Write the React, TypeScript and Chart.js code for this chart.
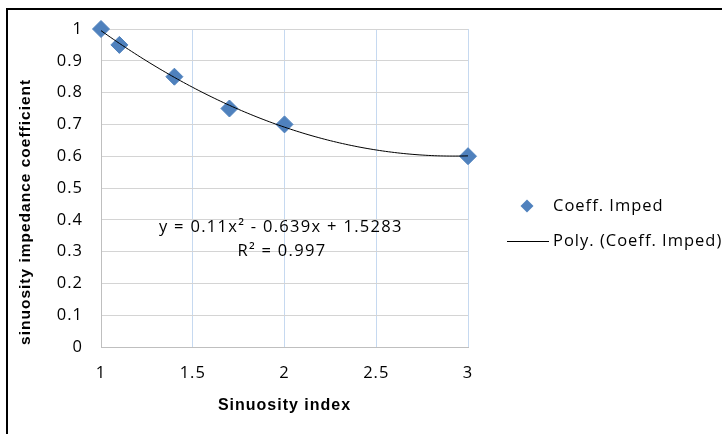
import React, { useEffect, useRef } from 'react';
import { Chart, registerables } from 'chart.js';

Chart.register(...registerables);

// ---- data ----
const sinuosityIndex = [1, 1.1, 1.4, 1.7, 2, 3];
const impedanceCoeff = [1, 0.95, 0.85, 0.75, 0.7, 0.6];
const xTickValues = [1, 1.5, 2, 2.5, 3];
const yTickValues = [0, 0.1, 0.2, 0.3, 0.4, 0.5, 0.6, 0.7, 0.8, 0.9, 1];
const seriesLabel = 'Coeff. Imped';
const trendLabel = 'Poly. (Coeff. Imped)';
const xTitle = 'Sinuosity index';
const yTitle = 'sinuosity impedance coefficient';
const equationLines = ['y = 0.11x² - 0.639x + 1.5283', 'R² = 0.997'];

const REG_FONT = "'Open Sans', sans-serif";
const BOLD_FONT = "'Liberation Sans', Arial, sans-serif";
const BLUE = '#4f81bd';
const W = 722;
const H = 434;

// least-squares quadratic fit (Excel "Poly. order 2" trendline)
function fitQuadratic(xs: number[], ys: number[]) {
  let s0 = 0, s1 = 0, s2 = 0, s3 = 0, s4 = 0, t0 = 0, t1 = 0, t2 = 0;
  for (let i = 0; i < xs.length; i++) {
    const x = xs[i], y = ys[i];
    s0 += 1; s1 += x; s2 += x * x; s3 += x * x * x; s4 += x * x * x * x;
    t0 += y; t1 += x * y; t2 += x * x * y;
  }
  const det3 = (m: number[][]) =>
    m[0][0] * (m[1][1] * m[2][2] - m[1][2] * m[2][1]) -
    m[0][1] * (m[1][0] * m[2][2] - m[1][2] * m[2][0]) +
    m[0][2] * (m[1][0] * m[2][1] - m[1][1] * m[2][0]);
  const M = [[s4, s3, s2], [s3, s2, s1], [s2, s1, s0]];
  const R = [t2, t1, t0];
  const D = det3(M);
  const col = (k: number) => M.map((row, i) => row.map((v, j) => (j === k ? R[i] : v)));
  return { a: det3(col(0)) / D, b: det3(col(1)) / D, c: det3(col(2)) / D };
}

export default function App() {
  const ref = useRef<HTMLCanvasElement | null>(null);

  useEffect(() => {
    if (!ref.current) return;
    const fit = fitQuadratic(sinuosityIndex, impedanceCoeff);
    const xMin = Math.min(...sinuosityIndex);
    const xMax = Math.max(...sinuosityIndex);
    const trend: { x: number; y: number }[] = [];
    const N = 120;
    for (let i = 0; i <= N; i++) {
      const x = xMin + ((xMax - xMin) * i) / N;
      trend.push({ x, y: fit.a * x * x + fit.b * x + fit.c });
    }
    const points = sinuosityIndex.map((x, i) => ({ x, y: impedanceCoeff[i] }));

    const spacingPlugin = {
      id: 'spacing',
      beforeLayout(chart: any) { chart.ctx.letterSpacing = '1px'; },
      beforeDraw(chart: any) { chart.ctx.letterSpacing = '1px'; },
    };

    // equation label + Excel-style legend on the right
    const annotatePlugin = {
      id: 'annotate',
      afterDraw(chart: any) {
        const { ctx, chartArea } = chart;
        const w = chartArea.right - chartArea.left;
        const h = chartArea.bottom - chartArea.top;
        ctx.save();
        ctx.letterSpacing = '1.3px';
        ctx.fillStyle = '#000';
        ctx.font = `16.5px ${REG_FONT}`;
        ctx.textAlign = 'center';
        ctx.textBaseline = 'alphabetic';
        ctx.fillText(equationLines[0], chartArea.left + w * 0.49, chartArea.top + h * 0.638);
        ctx.fillText(equationLines[1], chartArea.left + w * 0.493, chartArea.top + h * 0.714);

        // legend
        const ds = chart.data.datasets;
        const lx = chartArea.right + 39;
        const y1 = chartArea.top + 177;
        const y2 = chartArea.top + 212;
        const cx = lx + 20;
        const r = 6.5;
        ctx.fillStyle = ds[0].backgroundColor;
        ctx.beginPath();
        ctx.moveTo(cx, y1 - r); ctx.lineTo(cx + r, y1); ctx.lineTo(cx, y1 + r); ctx.lineTo(cx - r, y1);
        ctx.closePath();
        ctx.fill();
        ctx.strokeStyle = ds[1].borderColor;
        ctx.lineWidth = 1;
        ctx.beginPath();
        ctx.moveTo(lx, y2 + 0.5); ctx.lineTo(lx + 42, y2 + 0.5);
        ctx.stroke();
        ctx.letterSpacing = '1px';
        ctx.fillStyle = '#000';
        ctx.textAlign = 'left';
        ctx.textBaseline = 'middle';
        ctx.fillText(ds[0].label, lx + 46, y1);
        ctx.fillText(ds[1].label, lx + 46, y2);
        ctx.restore();
      },
    };

    const tickText = (v: any) => String(Number(v));

    const chart = new Chart(ref.current, {
      type: 'scatter',
      data: {
        datasets: [
          {
            label: seriesLabel,
            data: points,
            pointStyle: 'rectRot',
            pointRadius: 8.5,
            pointHoverRadius: 8.5,
            backgroundColor: BLUE,
            borderColor: BLUE,
            borderWidth: 1,
            clip: false,
            order: 1,
          } as any,
          {
            type: 'line',
            label: trendLabel,
            data: trend,
            showLine: true,
            borderColor: '#000',
            backgroundColor: '#000',
            borderWidth: 1,
            pointRadius: 0,
            pointHoverRadius: 0,
            fill: false,
            tension: 0,
            order: 0,
          } as any,
        ],
      },
      options: {
        animation: false,
        responsive: false,
        devicePixelRatio: 1,
        events: [],
        layout: { padding: { top: 29, bottom: 16, left: 16, right: 254 } },
        scales: {
          x: {
            type: 'linear',
            min: 1,
            max: 3,
            afterBuildTicks: (s: any) => { s.ticks = xTickValues.map((v) => ({ value: v })); },
            afterFit: (s: any) => { s.height = 71; },
            ticks: { color: '#000', padding: 16, font: { family: REG_FONT, size: 16.5 }, callback: tickText },
            grid: { color: '#c6d9f0', drawTicks: false },
            border: { color: '#bfbfbf' },
            title: {
              display: true,
              text: xTitle,
              color: '#000',
              font: { family: BOLD_FONT, size: 16, weight: 'bold' },
              padding: { top: 0, bottom: 2.4 },
            },
          },
          y: {
            type: 'linear',
            min: 0,
            max: 1,
            afterBuildTicks: (s: any) => { s.ticks = yTickValues.map((v) => ({ value: v })); },
            afterFit: (s: any) => { s.width = 85; },
            ticks: { color: '#000', padding: 18, font: { family: REG_FONT, size: 16.5 }, callback: tickText },
            grid: { color: '#d4d4d4', drawTicks: false },
            border: { color: '#bfbfbf' },
            title: {
              display: true,
              // trailing spaces shift the centred title toward the bottom, as in the source
              text: yTitle + '         ',
              color: '#000',
              font: { family: BOLD_FONT, size: 15.5, weight: 'bold' },
              padding: { top: 0, bottom: 0 },
            },
          },
        },
        plugins: {
          tooltip: { enabled: false },
          legend: { display: false },
        },
      } as any,
      plugins: [spacingPlugin, annotatePlugin],
    });
    return () => chart.destroy();
  }, []);

  return (
    <div style={{ position: 'fixed', left: 0, top: 0, width: W, height: H, overflow: 'hidden', background: '#fff' }}>
      <canvas ref={ref} width={W} height={H} style={{ display: 'block', width: W, height: H }} />
      <div style={{ position: 'absolute', left: 6, top: 8, width: W - 6, height: 2, background: '#000' }} />
      <div style={{ position: 'absolute', left: 6, top: 8, width: 2, height: H - 8, background: '#000' }} />
    </div>
  );
}
